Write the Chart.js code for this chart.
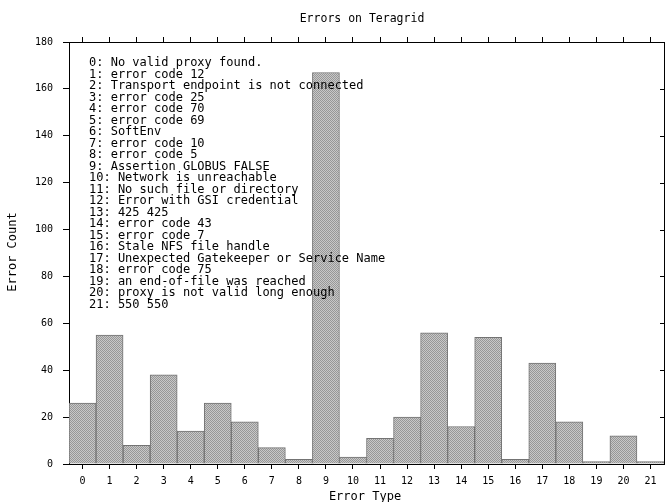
<!DOCTYPE html>
<html lang="en">
<head>
    <meta charset="UTF-8">
    <title>Errors on Teragrid</title>
    <script src="https://cdn.jsdelivr.net/npm/chart.js"></script>
    <style>
        html, body { margin: 0; padding: 0; background: #fff; }
        #wrap { width: 665px; height: 502px; }
    </style>
</head>
<body>
<div id="wrap"><canvas id="errorChart" width="665" height="502"></canvas></div>

<script>
    // data
    const errorTypes = ['0', '1', '2', '3', '4', '5', '6', '7', '8', '9', '10',
        '11', '12', '13', '14', '15', '16', '17', '18', '19', '20', '21'];
    const errorCounts = [26, 55, 8, 38, 14, 26, 18, 7, 2, 167, 3,
        11, 20, 56, 16, 54, 2, 43, 18, 1, 12, 1];
    const errorDescriptions = [
        '0: No valid proxy found.',
        '1: error code 12',
        '2: Transport endpoint is not connected',
        '3: error code 25',
        '4: error code 70',
        '5: error code 69',
        '6: SoftEnv',
        '7: error code 10',
        '8: error code 5',
        '9: Assertion GLOBUS FALSE',
        '10: Network is unreachable',
        '11: No such file or directory',
        '12: Error with GSI credential',
        '13: 425 425',
        '14: error code 43',
        '15: error code 7',
        '16: Stale NFS file handle',
        '17: Unexpected Gatekeeper or Service Name',
        '18: error code 75',
        '19: an end-of-file was reached',
        '20: proxy is not valid long enough',
        '21: 550 550'
    ];
    const yMax = 180;
    const yStep = 20;

    const FONT = '"DejaVu Sans Mono", "Liberation Mono", monospace';

    // dithered grey fill like the old plotting tool
    function makeHatch() {
        const c = document.createElement('canvas');
        c.width = 2;
        c.height = 2;
        const g = c.getContext('2d');
        g.fillStyle = '#c8c8c8';
        g.fillRect(0, 0, 2, 2);
        g.fillStyle = '#979797';
        g.fillRect(0, 0, 1, 1);
        g.fillRect(1, 1, 1, 1);
        return g.createPattern(c, 'repeat');
    }

    // title, axis titles, error list and right-side ticks
    const textPlugin = {
        id: 'textPlugin',
        afterDraw(chart) {
            const ctx = chart.ctx;
            const area = chart.chartArea;
            const y = chart.scales.y;
            ctx.save();
            ctx.fillStyle = '#000';

            ctx.font = '11.5px ' + FONT;
            ctx.textAlign = 'center';
            ctx.textBaseline = 'middle';
            ctx.fillText('Errors on Teragrid', 362, 19);

            ctx.font = '12px ' + FONT;
            ctx.fillText('Error Type', 365, 497);

            ctx.save();
            ctx.translate(13, 252);
            ctx.rotate(-Math.PI / 2);
            ctx.fillText('Error Count', 0, 0);
            ctx.restore();

            ctx.textAlign = 'left';
            errorDescriptions.forEach((line, i) => {
                ctx.fillText(line, 89, 63 + i * 11.5);
            });

            ctx.strokeStyle = '#000';
            ctx.lineWidth = 1;
            for (let v = yStep; v < yMax; v += yStep) {
                const py = Math.round(y.getPixelForValue(v)) + 0.5;
                ctx.beginPath();
                ctx.moveTo(area.right, py);
                ctx.lineTo(area.right - 4, py);
                ctx.stroke();
            }
            ctx.restore();
        }
    };

    document.addEventListener('DOMContentLoaded', function () {
        const ctx = document.getElementById('errorChart').getContext('2d');
        new Chart(ctx, {
            type: 'bar',
            data: {
                labels: errorTypes,
                datasets: [{
                    label: 'Error Count',
                    data: errorCounts,
                    backgroundColor: makeHatch(),
                    borderColor: '#737373',
                    borderWidth: 1,
                    barPercentage: 1,
                    categoryPercentage: 1
                }]
            },
            options: {
                responsive: false,
                animation: false,
                layout: { padding: 0 },
                plugins: {
                    legend: { display: false },
                    tooltip: { enabled: false },
                    title: { display: false }
                },
                scales: {
                    x: {
                        position: 'bottom',
                        grid: { display: true, offset: false, drawOnChartArea: false, color: '#000', tickLength: 5 },
                        border: { color: '#000', width: 1 },
                        ticks: {
                            color: '#000',
                            font: { family: FONT, size: 10 },
                            padding: 6,
                            maxRotation: 0,
                            autoSkip: false
                        },
                        afterFit(scale) { scale.height = 38; }
                    },
                    xTop: {
                        type: 'category',
                        labels: errorTypes,
                        position: 'top',
                        offset: true,
                        grid: { display: true, offset: false, drawOnChartArea: false, color: '#000', tickLength: 5 },
                        border: { color: '#000', width: 1 },
                        ticks: { display: false },
                        afterFit(scale) { scale.height = 42; }
                    },
                    y: {
                        min: 0,
                        max: yMax,
                        position: 'left',
                        grid: { display: true, drawOnChartArea: false, color: '#000', tickLength: 6 },
                        border: { color: '#000', width: 1 },
                        ticks: {
                            stepSize: yStep,
                            color: '#000',
                            font: { family: FONT, size: 10 },
                            padding: 10
                        },
                        afterFit(scale) { scale.width = 69; }
                    },
                    yRight: {
                        min: 0,
                        max: yMax,
                        position: 'right',
                        grid: { display: false },
                        border: { color: '#000', width: 1 },
                        ticks: { display: false },
                        afterFit(scale) { scale.width = 1; }
                    }
                }
            },
            plugins: [textPlugin]
        });
    });
</script>
</body>
</html>
